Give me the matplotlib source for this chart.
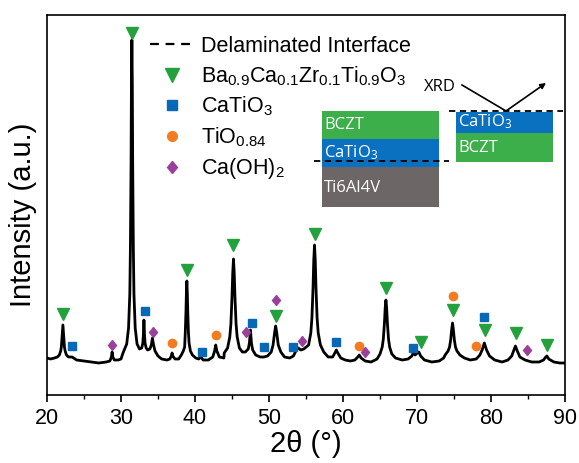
import matplotlib
matplotlib.use("Agg")
import matplotlib.pyplot as plt
from matplotlib.lines import Line2D
from matplotlib.patches import Rectangle
from matplotlib.markers import MarkerStyle
from matplotlib.transforms import Affine2D
from matplotlib.legend_handler import HandlerLine2D

plt.rcParams['font.family'] = ['Liberation Sans', 'DejaVu Sans']
plt.rcParams['mathtext.default'] = 'regular'

# ---------------- data ----------------
two_theta = [20.0, 20.5, 21.0, 21.4, 21.67, 21.85, 21.94, 22.03, 22.15, 22.27, 22.36, 22.45, 22.63, 22.9,
             23.4, 24.0, 25.0, 26.0, 27.0, 28.0, 28.5, 28.7, 28.8, 28.9, 29.1, 29.6, 30.0,
             30.27, 30.77, 31.02, 31.19, 31.27, 31.36, 31.41, 31.47, 31.53, 31.58, 31.67, 31.75, 31.92, 32.17, 32.5,
             32.8, 32.95, 33.02, 33.1, 33.18, 33.25, 33.4, 33.6,
             33.9, 34.1, 34.25, 34.4, 34.6, 35.0, 35.5, 36.2, 36.6, 36.8, 36.9, 37.0, 37.3, 37.8,
             38.15, 38.42, 38.6, 38.69, 38.78, 38.84, 38.9, 38.96, 39.02, 39.11, 39.2, 39.38, 39.65, 40.1, 40.5,
             40.8, 41.1, 41.8, 42.4, 42.65, 42.8, 42.95, 43.3, 43.9,
             43.95, 44.4, 44.7, 44.85, 45.0, 45.1, 45.2, 45.3, 45.4, 45.55, 45.7, 46.0, 46.4, 46.8, 47.2, 47.35,
             47.5, 47.62, 47.8, 48.2, 48.8, 49.3, 49.8, 50.3, 50.55, 50.75, 50.9, 51.05, 51.25, 51.6, 52.1, 52.8,
             53.3, 53.7, 53.95, 54.3, 54.7,
             55.35, 55.65, 55.8, 55.95, 56.05, 56.15, 56.25, 56.35, 56.5, 56.65, 56.95, 57.4, 58.0, 58.6, 58.9,
             59.1, 59.3, 59.7, 60.3, 61.0, 61.6, 62.0, 62.2, 62.45, 63.0, 63.8, 64.6,
             65.0, 65.3, 65.45, 65.6, 65.7, 65.8, 65.9, 66.0, 66.15, 66.3, 66.6, 67.1, 68.0, 68.8, 69.3, 69.5,
             69.75, 70.05, 70.25, 70.5, 71.0, 72.0, 73.0, 73.6,
             73.8, 74.2, 74.4, 74.55, 74.68, 74.8, 74.92, 75.05, 75.2, 75.4, 75.8, 76.4, 77.2, 78.0, 78.5, 78.8,
             79.1, 79.4, 79.8, 80.5, 81.5, 82.3, 82.8, 83.1, 83.3, 83.5, 83.9, 84.6, 85.5, 86.5, 87.1, 87.4,
             87.55, 87.8, 88.5, 89.3, 90.0]
intensity = [37, 36, 37, 38, 40, 44, 48, 57, 70, 57, 48, 44, 40, 38,
             38, 35, 34, 33, 32, 33, 34, 38, 43, 38, 35, 35, 36,
             42, 51, 67, 101, 146, 231, 311, 355, 311, 231, 146, 101, 67, 51, 46,
             47, 52, 60, 75, 60, 52, 47, 45,
             46, 50, 57, 50, 44, 39, 36, 35, 36, 39, 42, 39, 36, 36,
             40, 44, 48, 63, 84, 103, 114, 103, 84, 63, 52, 44, 40, 37, 36,
             38, 35, 35, 38, 44, 50, 44, 38, 37,
             42, 47, 58, 71, 98, 122, 136, 122, 98, 71, 58, 47, 43, 43, 46, 52,
             65, 52, 45, 40, 38, 38, 39, 43, 50, 62, 69, 62, 50, 43, 38, 37,
             39, 45, 47, 45, 46,
             50, 62, 77, 107, 135, 150, 135, 107, 77, 62, 50, 43, 38, 38, 42,
             45, 42, 37, 35, 34, 35, 38, 40, 37, 34, 33, 36,
             41, 48, 56, 72, 87, 95, 87, 72, 56, 48, 41, 37, 35, 36, 39, 42,
             40, 42, 43, 39, 35, 33, 34, 37,
             40, 44, 48, 55, 65, 72, 65, 55, 48, 44, 40, 37, 35, 36, 40, 45,
             52, 45, 39, 35, 33, 35, 39, 45, 49, 45, 38, 35, 33, 33, 35, 38,
             39, 36, 33, 32, 32]

bczt_x = [22.1, 31.5, 38.9, 45.2, 50.9, 56.2, 65.8, 70.5, 74.8, 79.2, 83.4, 87.6]
bczt_y = [81, 362, 125, 150, 79, 161, 107, 53, 85, 65, 62, 50]

catio3_x = [23.4, 33.2, 40.9, 47.7, 49.3, 53.3, 59.1, 69.4, 79.1]
catio3_y = [49, 84, 43, 72, 48, 48, 53, 47, 78]

tio_x = [36.9, 42.8, 62.1, 74.8, 78.0]
tio_y = [52, 60, 49, 99, 49]

caoh_x = [28.8, 34.3, 46.9, 50.9, 54.4, 63.0, 84.8]
caoh_y = [50, 63, 63, 95, 54, 43, 45]

x_ticks = [20, 30, 40, 50, 60, 70, 80, 90]

labels = ['Delaminated Interface',
          r'Ba$_{0.9}$Ca$_{0.1}$Zr$_{0.1}$Ti$_{0.9}$O$_3$',
          r'CaTiO$_3$', r'TiO$_{0.84}$', r'Ca(OH)$_2$']

# ---------------- styles ----------------
c_green = '#24a03c'
c_blue = '#0868b8'
c_orange = '#f47c20'
c_purple = '#9c3f9c'
box_green = '#3cae4a'
box_blue = '#0a70c0'
box_gray = '#6d6666'

W, H = 579, 463
fig = plt.figure(figsize=(W / 100, H / 100), dpi=100)
ax = fig.add_axes([47 / W, 1 - 395 / H, (565 - 47) / W, (395 - 15) / H])

ax.plot(two_theta, intensity, color='black', lw=2.0)
diamond = MarkerStyle('D', transform=Affine2D().scale(0.8, 1.0))
ax.plot(bczt_x, bczt_y, 'v', color=c_green, ms=9, ls='none')
ax.plot(catio3_x, catio3_y, 's', color=c_blue, ms=6, ls='none')
ax.plot(tio_x, tio_y, 'o', color=c_orange, ms=6, ls='none')
ax.plot(caoh_x, caoh_y, marker=diamond, color=c_purple, ms=5.5, ls='none')

ax.set_xlim(20, 90)
ax.set_ylim(0, 380)
ax.set_xticks(x_ticks)
ax.set_xticks([25, 35, 45, 55, 65, 75, 85], minor=True)
ax.set_yticks([])
ax.tick_params(axis='x', which='major', direction='out', length=5, width=1.2, labelsize=15.5, pad=4)
ax.tick_params(axis='x', which='minor', direction='out', length=3, width=1.0)
for s in ax.spines.values():
    s.set_linewidth(1.2)
ax.set_xlabel('2θ (°)', fontsize=21, labelpad=1)
ax.set_ylabel('Intensity (a.u.)', fontsize=21)
ax.yaxis.set_label_coords(-0.019, 0.474)


# ---------------- legend ----------------
class LeftMarkerHandler(HandlerLine2D):
    def get_xdata(self, legend, xdescent, ydescent, width, height, fontsize):
        xdata, _ = super().get_xdata(legend, xdescent, ydescent, width, height, fontsize)
        return xdata, [-xdescent + 0.22 * width]


handles = [
    Line2D([], [], color='black', lw=1.6, ls=(0, (4.0, 3.0))),
    Line2D([], [], color=c_green, marker='v', ms=10, ls='none'),
    Line2D([], [], color=c_blue, marker='s', ms=7, ls='none'),
    Line2D([], [], color=c_orange, marker='o', ms=7, ls='none'),
    Line2D([], [], color=c_purple, marker=diamond, ms=6.5, ls='none'),
]
hmap = {h: LeftMarkerHandler(numpoints=1) for h in handles[1:]}
fig.legend(handles, labels, loc='upper left', bbox_to_anchor=(150 / W, 1 - 36 / H),
           frameon=False, fontsize=15.5, handlelength=2.0, handletextpad=0.35,
           labelspacing=0.33, borderpad=0, borderaxespad=0, handler_map=hmap)


# ---------------- schematic inset ----------------
def rect(x0, y0, x1, y1, color):
    fig.add_artist(Rectangle((x0 / W, 1 - y1 / H), (x1 - x0) / W, (y1 - y0) / H,
                             transform=fig.transFigure, facecolor=color, edgecolor='none'))


def ftext(x, y, s, **kw):
    fig.text(x / W, 1 - y / H, s, **kw)


box_font = dict(color='white', fontsize=12, family=['Open Sans', 'DejaVu Sans'], va='center', ha='left')

rect(322, 111, 439, 139, box_green)
rect(322, 139, 439, 167, box_blue)
rect(322, 167, 439, 207, box_gray)
ftext(324, 125, 'BCZT', **box_font)
ftext(324, 153, r'CaTiO$_3$', **box_font)
ftext(324, 188, 'Ti6Al4V', **box_font)
fig.add_artist(Line2D([314 / W, 449 / W], [1 - 161 / H, 1 - 161 / H], transform=fig.transFigure,
                      color='black', lw=1.3, ls=(0, (3.5, 2.5))))

rect(456, 112, 553, 133, box_blue)
rect(456, 133, 553, 162, box_green)
ftext(458, 122, r'CaTiO$_3$', **box_font)
ftext(458, 148, 'BCZT', **box_font)
fig.add_artist(Line2D([449 / W, 563 / W], [1 - 111 / H, 1 - 111 / H], transform=fig.transFigure,
                      color='black', lw=1.3, ls=(0, (3.5, 2.5))))

ftext(456, 87, 'XRD', color='black', fontsize=12, family=['Open Sans', 'DejaVu Sans'],
      va='center', ha='right')
fig.add_artist(Line2D([462 / W, 506 / W], [1 - 85 / H, 1 - 111 / H], transform=fig.transFigure,
                      color='black', lw=1.2))
ax.annotate('', xy=(546 / W, 1 - 83 / H), xytext=(506 / W, 1 - 111 / H),
            xycoords='figure fraction', textcoords='figure fraction',
            arrowprops=dict(arrowstyle='-|>', color='black', lw=1.2, mutation_scale=8,
                            shrinkA=0, shrinkB=0))

fig.savefig('out.png', dpi=100)
